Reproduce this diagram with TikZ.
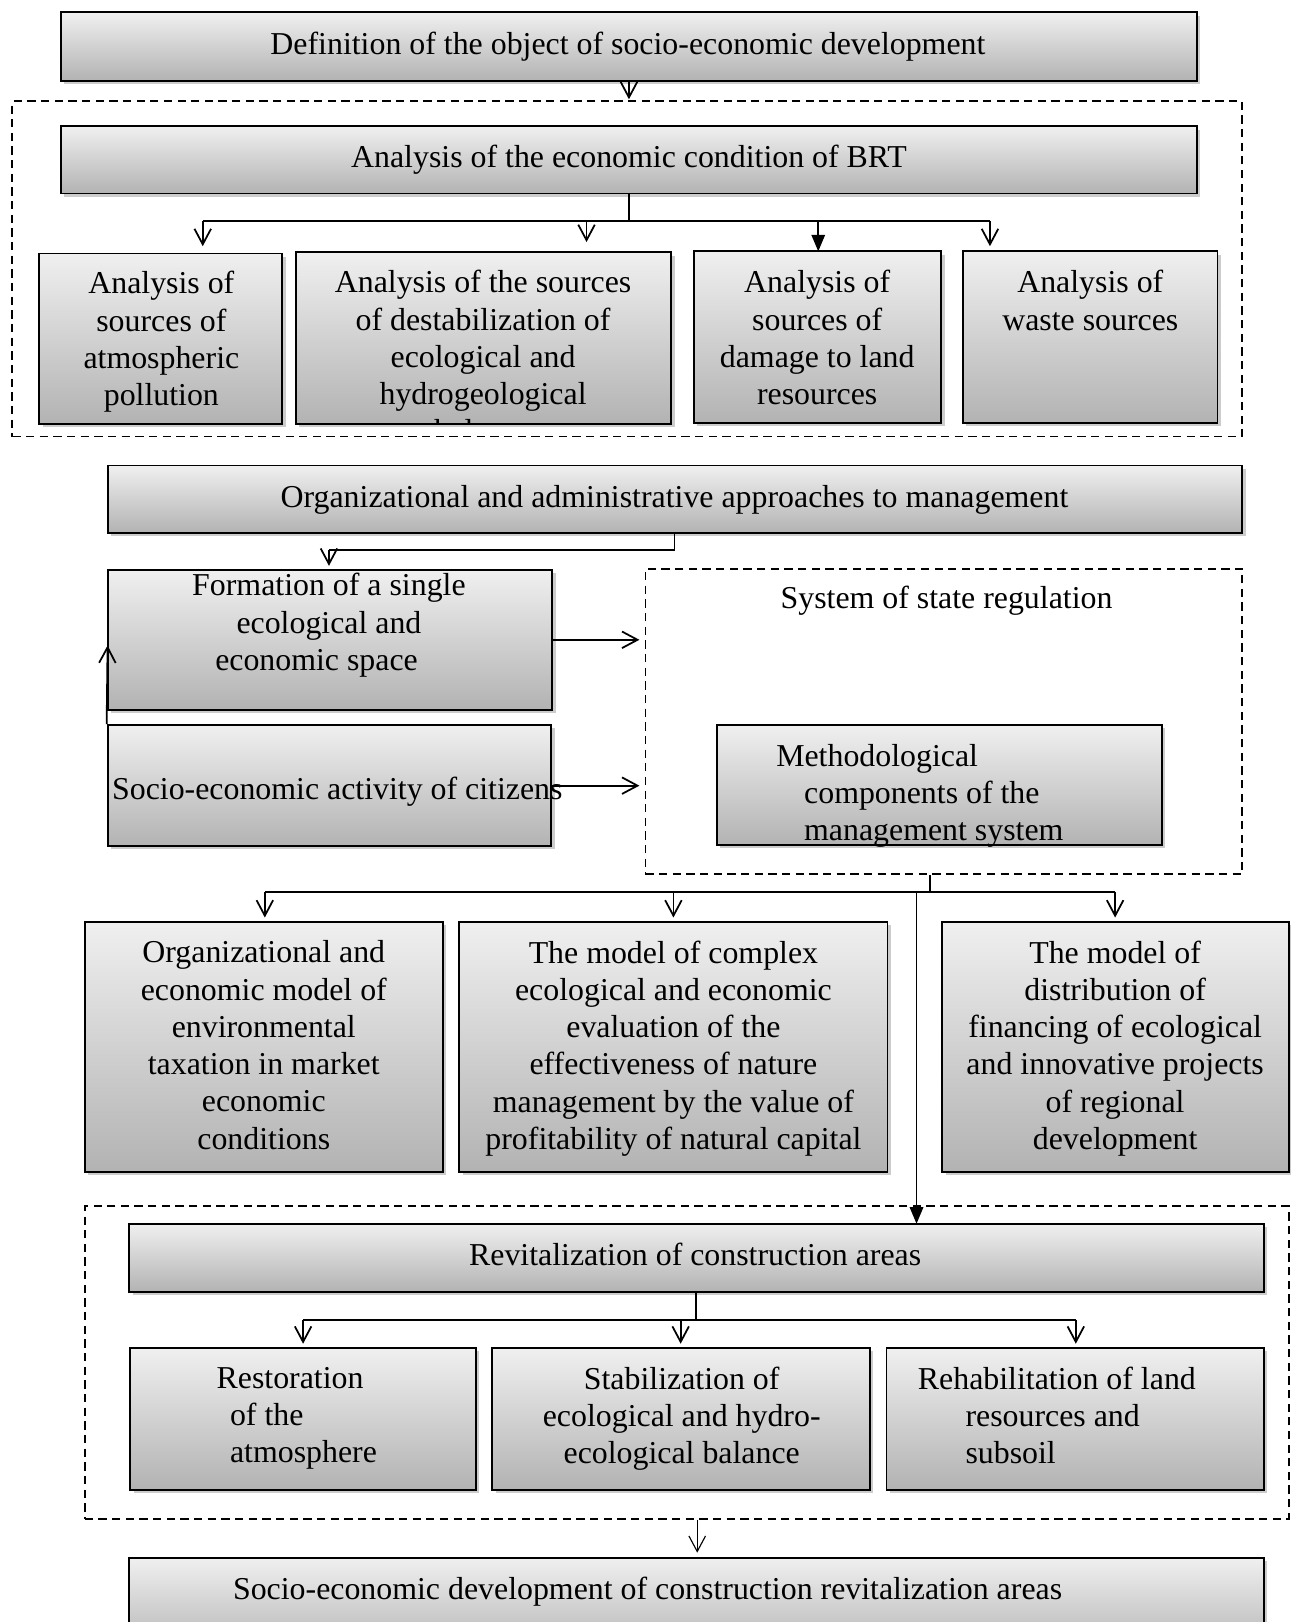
\documentclass[tikz,border=0pt]{standalone}
\usepackage{fontspec}
\setmainfont{Liberation Serif}
\usetikzlibrary{arrows.meta,shadows,fit}
\tikzset{
  box/.style={draw=black, line width=0.9pt, top color=black!6, bottom color=black!30,
    drop shadow={shadow xshift=1.6pt, shadow yshift=-1.6pt, fill=black!20, opacity=1},
    inner sep=0pt},
  dbox/.style={draw=black, line width=0.9pt, dash pattern=on 4pt off 2.6pt, inner sep=0pt},
  conn/.style={line width=0.85pt},
  arr/.style={conn, -{Straight Barb[length=7.5pt,width=8pt]}},
  farr/.style={conn, -{Triangle[length=8pt,width=6.5pt]}},
  txt/.style={inner sep=0pt, align=center, anchor=north},
  ltxt/.style={inner sep=0pt, align=left, anchor=north west},
}
\begin{document}
\begin{tikzpicture}[x=0.5pt,y=-0.5pt,font=\fontsize{15.4pt}{18pt}\selectfont]
\useasboundingbox (0,0) rectangle (1248,1568);
\clip (0,0) rectangle (1248,1568);
\fill[white] (0,0) rectangle (1248,1568);

% dashed groups
\node[dbox, fit={(12,98) (1201,422)}] (g1) {};
\node[dbox, fit={(624,550) (1201,845)}] (sr) {};
\node[dbox, fit={(82,1166) (1246,1468)}] (g3) {};

% boxes
\node[box, fit={(59,12) (1157,78)}] (def) {};
\node[box, fit={(59,122) (1157,187)}] (brt) {};
\node[box, fit={(38,245) (273,410)}] (aA) {};
\node[box, fit={(286,244) (649,410)}] (aB) {};
\node[box, fit={(671,243) (910,409)}] (aC) {};
\node[box, fit={(931,243) (1177,409)}] (aD) {};
\node[box, fit={(104,450) (1201,515)}] (org) {};
\node[box, fit={(104,551) (534,686)}] (form) {};
\node[box, fit={(104,701) (533,818)}] (soc) {};
\node[box, fit={(693,701) (1123,817)}] (meth) {};
\node[box, fit={(82,891) (428,1133)}] (m1) {};
\node[box, fit={(444,891) (858,1133)}] (m2) {};
\node[box, fit={(911,891) (1246,1133)}] (m3) {};
\node[box, fit={(125,1183) (1222,1249)}] (rev) {};
\node[box, fit={(126,1303) (460,1440)}] (r1) {};
\node[box, fit={(476,1303) (841,1440)}] (r2) {};
\node[box, fit={(857,1303) (1222,1440)}] (r3) {};
\node[box, fit={(125,1506) (1222,1600)}] (fin) {};

% texts
\node[txt] (tdef) at (607,31) {Definition of the object of socio-economic development};
\node[txt] (tbrt) at (608,140) {Analysis of the economic condition of BRT};
\node[txt] (tA) at (156,262) {Analysis of\\sources of\\atmospheric\\pollution};
\begin{scope}
\clip (286,244) rectangle (649,410);
\node[txt] (tB) at (467,261) {Analysis of the sources\\of destabilization of\\ecological and\\hydrogeological\\balance};
\end{scope}
\node[txt] (tC) at (790,261) {Analysis of\\sources of\\damage to land\\resources};
\node[txt] (tD) at (1054,261) {Analysis of\\waste sources};
\node[txt] (torg) at (652,469) {Organizational and administrative approaches to management};
\node[txt] (tform) at (318,554) {Formation of a single\\ecological and\hspace*{3pt}\\economic space\hspace*{12pt}};
\node[ltxt] (tsoc) at (108,751) {Socio-economic activity of citizens};
\node[txt] (tsr) at (915,566) {System of state regulation};
\node[ltxt] (tmeth) at (750,719) {Methodological\\\hspace*{13.5pt}components of the\\\hspace*{13.5pt}management system};
\node[txt] (tm1) at (255,909) {Organizational and\\economic model of\\environmental\\taxation in market\\economic\\conditions};
\node[txt] (tm2) at (651,909) {The model of complex\\ecological and economic\\evaluation of the\\effectiveness of nature\\management by the value of\\profitability of natural capital};
\node[txt] (tm3) at (1078,909) {The model of\\distribution of\\financing of ecological\\and innovative projects\\of regional\\development};
\node[txt] (trev) at (672,1201) {Revitalization of construction areas};
\node[ltxt] (tr1) at (209,1321) {Restoration\\\hspace*{6.5pt}of the\\\hspace*{6.5pt}atmosphere};
\node[txt] (tr2) at (659,1321) {Stabilization of\\ecological and hydro-\\ecological balance};
\node[ltxt] (tr3) at (887,1321) {Rehabilitation of land\\\hspace*{23pt}resources and\\\hspace*{23pt}subsoil};
\node[txt] (tfin) at (626,1524) {Socio-economic development of construction revitalization areas};

% connectors
\coordinate (c1) at (608,96);
\draw[arr] (def.south) -- (c1);

\coordinate (j1) at (608,214);
\coordinate (pA) at (196,238);
\coordinate (pB) at (567,234);
\coordinate (pC) at (791,243);
\coordinate (pD) at (957,238);
\draw[conn] (brt.south) -- (j1);
\draw[conn] (pA |- j1) -- (pD |- j1);
\draw[arr] (pA |- j1) -- (pA);
\draw[arr] (pB |- j1) -- (pB);
\draw[farr] (pC |- j1) -- (pC);
\draw[arr] (pD |- j1) -- (pD);

\coordinate (j2) at (652,532);
\coordinate (pF) at (318,547);
\draw[conn] (j2 |- org.south) -- (j2) -- (pF |- j2);
\draw[arr] (pF |- j2) -- (pF);

\coordinate (pU) at (104,624);
\draw[arr] (soc.north west) -- (pU);
\draw[arr] (form.east) -- ([xshift=-2.5pt]form.east -| sr.west);
\draw[arr] (soc.east) -- ([xshift=-2.5pt]soc.east -| sr.west);

\coordinate (j3) at (899,862);
\coordinate (p1) at (256,887);
\coordinate (p2) at (651,887);
\coordinate (p3) at (1078,887);
\coordinate (pV) at (886,1183);
\draw[conn] (j3 |- sr.south) -- (j3);
\draw[conn] (p1 |- j3) -- (p3 |- j3);
\draw[arr] (p1 |- j3) -- (p1);
\draw[arr] (p2 |- j3) -- (p2);
\draw[arr] (p3 |- j3) -- (p3);
\draw[farr] (pV |- j3) -- (pV);

\coordinate (j4) at (673,1276);
\coordinate (q1) at (293,1299);
\coordinate (q2) at (658,1299);
\coordinate (q3) at (1040,1299);
\draw[conn] (j4 |- rev.south) -- (j4);
\draw[conn] (q1 |- j4) -- (q3 |- j4);
\draw[arr] (q1 |- j4) -- (q1);
\draw[arr] (q2 |- j4) -- (q2);
\draw[arr] (q3 |- j4) -- (q3);

\coordinate (q4) at (674,1501);
\draw[line width=0.55pt, -{Straight Barb[length=7.5pt,width=8pt]}] (q4 |- g3.south) -- (q4);
\end{tikzpicture}
\end{document}
